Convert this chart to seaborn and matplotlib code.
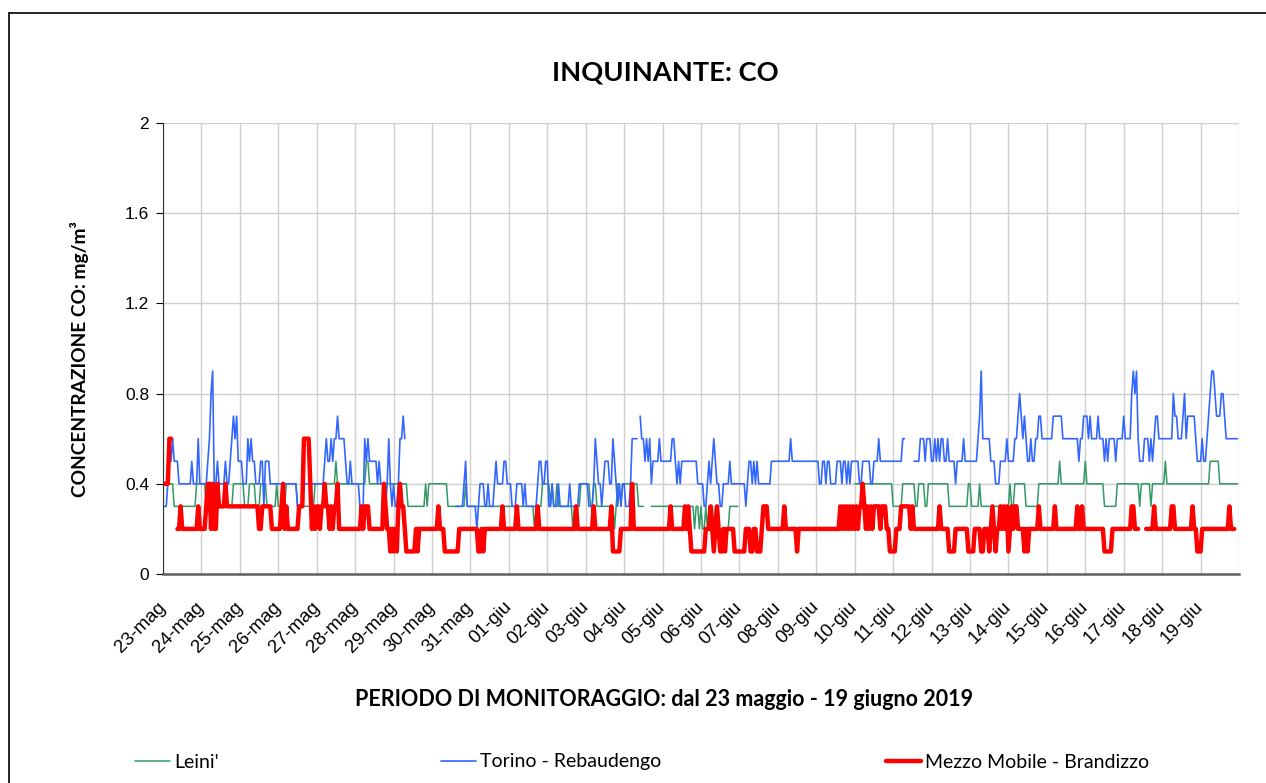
import numpy as np
import pandas as pd
import matplotlib
matplotlib.use('Agg')
import matplotlib.pyplot as plt
import matplotlib.transforms as mtransforms
from matplotlib.lines import Line2D
import seaborn as sns

# Hourly CO values, one string of 24 hours per day, digits = tenths of mg/m3, '-' = missing
leini = [
    '444444433333333333333444', '444333444433333333334444', '444333444433344443333334',
    '333334444444333333333334', '444444444444544444444444', '444444455444444444444444',
    '444444444333333333334344', '444444444433333333333433', '333333333333333333333333',
    '333333333333333323333444', '443433433333333323333444', '444334433333333333234434',
    '4444444443333----3333333', '333333333333333333332332', '322323232322222222333333',
    '------------------------', '------------------------', '------------------------',
    '444444444444444444444444', '333333444444443344443344', '444444444443333333333334',
    '433333433333333333333333', '343344444443333333344444', '444444445444444444444444',
    '544444444444333333334444', '444444444434444443444444', '445444444444444444444444',
    '444444555555444444444444',
]
torino = [
    '333465655544444444544464', '444456894454444544567675', '554446565544455355544444',
    '444444444444333344444444', '444445655656676666544544', '444333656555554544434643',
    '43346676----------------', '---------------333334533', '333323444334333454444554',
    '443334444343333333455445', '533433343333334333334444', '443334654434555446543434',
    '433346666-76656564555565', '555555665454555555555544', '443345456544334444544444',
    '444434554545444444445555', '555555556555555555555555', '554455455444455545545455',
    '555445555544555655555555', '55555566-----55556665666', '556565665565555455556555',
    '555556796666655544455556', '555566787676556556677666', '666677777766666666665667',
    '776766667666565666656666', '766668989655566656567766', '666666687766678677777655',
    '565567899877788766666666',
]
brandizzo = [
    '444466---223222222222232', '222344242243333433333333', '333333333333223333332222',
    '223423222222233366664232', '332334332323342222222222', '222232333222222222432212',
    '121343321111112122222222', '222232221111111112222222', '222221121222222222223222',
    '222223222222222222322222', '222222222222222222322222', '222223222222222231111122',
    '222224222222222222222222', '222223222222223232111111', '111222321232112122222111',
    '111122211221112333222222', '222232222222122222222222', '222222222222222323232323',
    '232334323232333323332211', '112223333332322222222222', '222223222221111222222221',
    '111222211222123212232323', '123233222212122222232222', '222223222222222222232232',
    '222222222222111112222222', '2222233222----2222232222', '222222332222222222232211',
    '1222222222222222223222--',
]

day_labels = ['23-mag', '24-mag', '25-mag', '26-mag', '27-mag', '28-mag', '29-mag',
              '30-mag', '31-mag', '01-giu', '02-giu', '03-giu', '04-giu', '05-giu',
              '06-giu', '07-giu', '08-giu', '09-giu', '10-giu', '11-giu', '12-giu',
              '13-giu', '14-giu', '15-giu', '16-giu', '17-giu', '18-giu', '19-giu']

stations = ["Leini'", 'Torino - Rebaudengo', 'Mezzo Mobile - Brandizzo']
colors = ['#339966', '#3366ff', '#ff0000']
widths = [1.1, 1.2, 3.2]


def decode(days):
    vals = []
    for d in days:
        for c in d:
            vals.append(np.nan if c == '-' else int(c) / 10)
    return pd.Series(vals)


times = pd.date_range('2019-05-23', periods=24 * len(day_labels), freq='h')
frames = []
for name, days in zip(stations, [leini, torino, brandizzo]):
    v = decode(days)
    frames.append(pd.DataFrame({'time': times, 'value': v,
                                'seg': v.isna().cumsum(), 'station': name}))
df = pd.concat(frames).dropna()

sns.set_style('white')
plt.rcParams['font.family'] = ['Liberation Sans', 'DejaVu Sans']
plt.rcParams['text.color'] = 'black'
plt.rcParams['axes.labelcolor'] = 'black'
plt.rcParams['xtick.color'] = 'black'
plt.rcParams['ytick.color'] = 'black'

fig = plt.figure(figsize=(12.66, 7.83), dpi=100)
ax = fig.add_axes([163 / 1266, 209 / 783, 1076 / 1266, 451 / 783])

for name, color, lw in zip(stations, colors, widths):
    sub = df[df['station'] == name]
    sns.lineplot(data=sub, x='time', y='value', units='seg', estimator=None,
                 color=color, lw=lw, ax=ax, legend=False)

start = pd.Timestamp('2019-05-23')
end = pd.Timestamp('2019-06-20')
ax.set_xlim(start, end)
ax.set_ylim(0, 2)

ax.set_xticks(pd.date_range(start, periods=len(day_labels), freq='D'))
ax.set_xticklabels(day_labels, rotation=45, ha='right', va='center',
                   rotation_mode='anchor', fontsize=13.5)
shift = mtransforms.ScaledTranslation(-0.05, 0, fig.dpi_scale_trans)
for lab in ax.get_xticklabels():
    lab.set_transform(lab.get_transform() + shift)
ax.set_yticks(np.arange(0, 2.01, 0.4))
ax.set_yticklabels(['0', '0.4', '0.8', '1.2', '1.6', '2'], fontsize=12.5)
ax.tick_params(axis='x', length=0, pad=22)
ax.tick_params(axis='y', length=5, width=0.8, color='black', pad=5, direction='out', left=True)

ax.grid(True, color='#cfcfcf', lw=1.0)
ax.axvline(end, color='#cfcfcf', lw=1.0, zorder=0)
ax.set_axisbelow(True)
for s in ['top', 'right']:
    ax.spines[s].set_visible(False)
ax.spines['left'].set_color('#303030')
ax.spines['left'].set_linewidth(0.8)
ax.spines['bottom'].set_color('#5f5f5f')
ax.spines['bottom'].set_linewidth(1.8)

ax.set_xlabel('PERIODO DI MONITORAGGIO: dal 23 maggio - 19 giugno 2019',
              fontsize=15.5, fontweight='bold', family='Lato')
ax.xaxis.set_label_coords((664 - 163) / 1076, -(700 - 574) / 451)
ax.xaxis.label.set_va('center')
ax.set_ylabel('CONCENTRAZIONE CO: mg/m³', fontsize=13.8, fontweight='bold', family='Lato')
ax.yaxis.set_label_coords((80 - 163) / 1076, (574 - 359) / 451)
ax.yaxis.label.set_va('center')

fig.text(665 / 1266, 1 - 73 / 783, 'INQUINANTE: CO', ha='center', va='center',
         fontsize=19.6, fontweight='bold', family='Lato')

# separate legend entries spread along the bottom
for name, color, lw, x0 in zip(stations, colors, widths, [135, 441, 886]):
    h = Line2D([], [], color=color, lw=lw)
    fig.legend([h], [name], loc='center left', bbox_to_anchor=(x0 / 1266, 1 - 762 / 783),
               frameon=False, borderpad=0, borderaxespad=0, handlelength=1.8,
               handletextpad=0.2, prop={'family': 'Lato', 'size': 14})

# chart border (left and top edges visible in the crop)
top = 1 - 13 / 783
fig.add_artist(Line2D([9 / 1266, 9 / 1266], [0, top], color='black', lw=1.2,
                      transform=fig.transFigure))
fig.add_artist(Line2D([9 / 1266, 1], [top, top], color='black', lw=1.2,
                      transform=fig.transFigure))

fig.savefig('out.png', dpi=100)
